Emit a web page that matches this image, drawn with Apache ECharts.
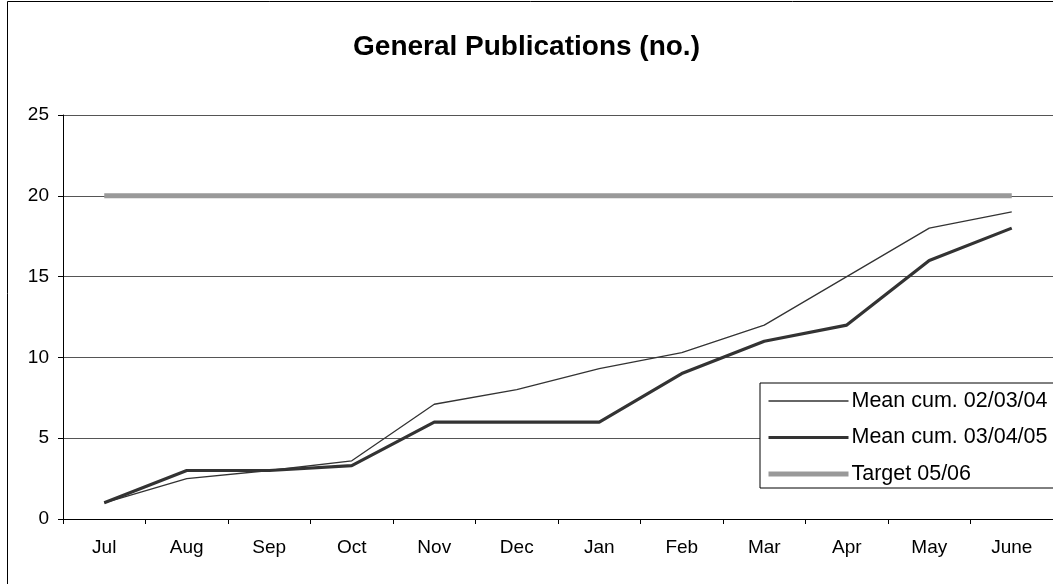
<!DOCTYPE html>
<html>

<head>
	<meta charset="utf-8">
	<title>General Publications</title>
	<script src="https://cdn.jsdelivr.net/npm/echarts@6/dist/echarts.min.js" type="text/javascript" charset="utf-8"></script>
	<style>
		html, body { margin: 0; padding: 0; background: #fff; }
	</style>
</head>

<body>
	<div class="box" style="width: 1053px;height: 584px;"></div>
	<script type="text/javascript">
		// months on the x axis
		var months = ['Jul', 'Aug', 'Sep', 'Oct', 'Nov', 'Dec', 'Jan', 'Feb', 'Mar', 'Apr', 'May', 'June']
		// cumulative means
		var mean020304 = [1, 2.5, 3, 3.6, 7.1, 8, 9.3, 10.3, 12, 15, 18, 19]
		var mean030405 = [1, 3, 3, 3.3, 6, 6, 6, 9, 11, 12, 16, 18]
		// target
		var target0506 = [20, 20, 20, 20, 20, 20, 20, 20, 20, 20, 20, 20]

		var myEcharts = echarts.init(document.querySelector(".box"))

		var font = 'Arial, "Liberation Sans", sans-serif'

		var options = {
			animation: false,
			title: {
				text: 'General Publications (no.)',
				left: 'center',
				top: 28,
				textStyle: { fontFamily: font, fontSize: 28, fontWeight: 'bold', color: '#000' }
			},
			// outer frame of the chart
			graphic: [{
				type: 'rect',
				shape: { x: 7.5, y: 1.5, width: 1200, height: 800 },
				style: { fill: 'none', stroke: '#000', lineWidth: 1 },
				z: 100
			}],
			grid: {
				left: 63,
				top: 115,
				width: 998,
				height: 404
			},
			legend: {
				orient: 'vertical',
				left: 760,
				top: 383,
				padding: [7, 30, 3, 6],
				itemWidth: 80,
				itemHeight: 14,
				itemGap: 14.5,
				backgroundColor: '#fff',
				borderColor: '#000',
				borderWidth: 1,
				borderRadius: 0,
				// hide the symbol drawn in the middle of the legend line
				itemStyle: { opacity: 0 },
				textStyle: { fontFamily: font, fontSize: 21.5, color: '#000', padding: [0, 0, 0, -2] },
				data: [
					{ name: 'Mean cum. 02/03/04', lineStyle: { width: 1.3, color: '#333' } },
					{ name: 'Mean cum. 03/04/05', lineStyle: { width: 3.2, color: '#333' } },
					{ name: 'Target 05/06', lineStyle: { width: 5, color: '#999' } }
				]
			},
			xAxis: {
				type: 'category',
				data: months,
				boundaryGap: true,
				axisLine: { lineStyle: { color: '#000', width: 1 } },
				axisTick: { show: true, length: 5, lineStyle: { color: '#000' } },
				axisLabel: { fontFamily: font, fontSize: 19, color: '#000', margin: 19 },
				splitLine: { show: false }
			},
			yAxis: {
				type: 'value',
				min: 0,
				max: 25,
				interval: 5,
				axisLine: { show: true, lineStyle: { color: '#000', width: 1 } },
				axisTick: { show: true, length: 5, lineStyle: { color: '#000' } },
				axisLabel: { fontFamily: font, fontSize: 19, color: '#000', margin: 14 },
				splitLine: { show: true, lineStyle: { color: '#555', width: 1 } }
			},
			series: [
				{
					name: 'Mean cum. 02/03/04',
					type: 'line',
					data: mean020304,
					symbol: 'none',
					lineStyle: { color: '#333', width: 1.3 },
					itemStyle: { color: '#333' },
					z: 4
				},
				{
					name: 'Mean cum. 03/04/05',
					type: 'line',
					data: mean030405,
					symbol: 'none',
					lineStyle: { color: '#333', width: 3.2 },
					itemStyle: { color: '#333' },
					z: 3
				},
				{
					name: 'Target 05/06',
					type: 'line',
					data: target0506,
					symbol: 'none',
					lineStyle: { color: '#999', width: 5 },
					itemStyle: { color: '#999' },
					z: 2
				}
			]
		}

		myEcharts.setOption(options)
	</script>
</body>

</html>
